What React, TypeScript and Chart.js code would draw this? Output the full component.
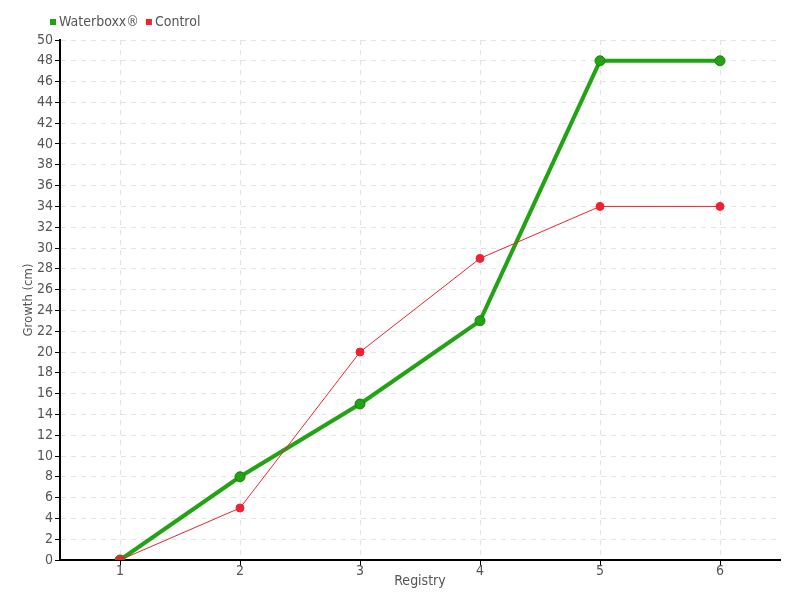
import React, { useEffect, useRef } from "react";
import { Chart, registerables } from "chart.js";

Chart.register(...registerables);

const categories = ["1", "2", "3", "4", "5", "6"];
const waterboxxValues = [0, 8, 15, 23, 48, 48];
const controlValues = [0, 5, 20, 29, 34, 34];
const seriesLabels = ["Waterboxx®", "Control"];
const yTitle = "Growth (cm)";
const xTitle = "Registry";

const GREEN = "#22a314";
const GREEN_DARK = "#1b7f10";
const RED = "#ee2233";
const FONT = "'DejaVu Sans Condensed', 'Liberation Sans Narrow', sans-serif";

const legendPlugin = {
  id: "customLegend",
  afterDraw(chart: any) {
    const ctx = chart.ctx;
    ctx.save();
    ctx.font = `14px ${FONT}`;
    ctx.textBaseline = "middle";
    ctx.textAlign = "left";
    const colors = [GREEN, RED];
    let x = 50;
    const y = 22;
    seriesLabels.forEach((label, i) => {
      ctx.fillStyle = colors[i];
      ctx.fillRect(x, y - 3, 6, 6);
      x += 9;
      ctx.fillStyle = "#555";
      ctx.fillText(label, x, y);
      x += ctx.measureText(label).width + 7;
    });
    ctx.restore();
  },
};

export default function App() {
  const ref = useRef<HTMLCanvasElement | null>(null);
  useEffect(() => {
    if (!ref.current) return;
    const chart = new Chart(ref.current, {
      type: "line",
      data: {
        labels: categories,
        datasets: [
          {
            label: seriesLabels[0],
            data: waterboxxValues,
            borderColor: GREEN,
            backgroundColor: GREEN,
            borderWidth: 4,
            pointRadius: 5,
            pointBackgroundColor: GREEN,
            pointBorderColor: GREEN_DARK,
            pointBorderWidth: 1,
            tension: 0,
            order: 1,
          },
          {
            label: seriesLabels[1],
            data: controlValues,
            borderColor: RED,
            backgroundColor: RED,
            borderWidth: 1,
            pointRadius: 4,
            pointBackgroundColor: RED,
            pointBorderColor: RED,
            pointBorderWidth: 1,
            tension: 0,
            order: 0,
          },
        ],
      },
      options: {
        animation: false,
        responsive: false,
        layout: { padding: { top: 40, right: 20, left: 0, bottom: 0 } },
        plugins: {
          legend: { display: false },
          tooltip: { enabled: false },
        },
        scales: {
          x: {
            offset: true,
            border: { color: "#000", width: 2, dash: [5, 5] },
            grid: {
              color: "#e3e3e3",
              tickColor: "#000",
              tickLength: 6,
              tickWidth: 1,
              offset: false,
            },
            ticks: { color: "#555", font: { family: FONT, size: 14 }, padding: -3, maxRotation: 0 },
            title: {
              display: true,
              text: xTitle,
              color: "#555",
              font: { family: FONT, size: 14 },
              padding: { top: 0, bottom: 10 },
            },
            afterFit(scale: any) {
              scale.height = 40;
            },
          },
          y: {
            min: 0,
            max: 50,
            border: { color: "#000", width: 2, dash: [5, 5] },
            grid: {
              color: "#e3e3e3",
              tickColor: "#000",
              tickLength: 5,
              tickWidth: 1,
            },
            ticks: {
              stepSize: 2,
              color: "#555",
              font: { family: FONT, size: 14 },
              padding: 2,
              autoSkip: false,
            },
            title: {
              display: true,
              text: yTitle,
              color: "#555",
              font: { family: FONT, size: 13 },
              padding: { top: 21, bottom: 0 },
            },
            afterFit(scale: any) {
              scale.width = 60;
            },
          },
        },
      },
      plugins: [legendPlugin],
    });
    return () => chart.destroy();
  }, []);
  return (
    <div style={{ position: "fixed", left: 0, top: 0, width: 800, height: 600, background: "#fff" }}>
      <canvas ref={ref} width={800} height={600} />
    </div>
  );
}
